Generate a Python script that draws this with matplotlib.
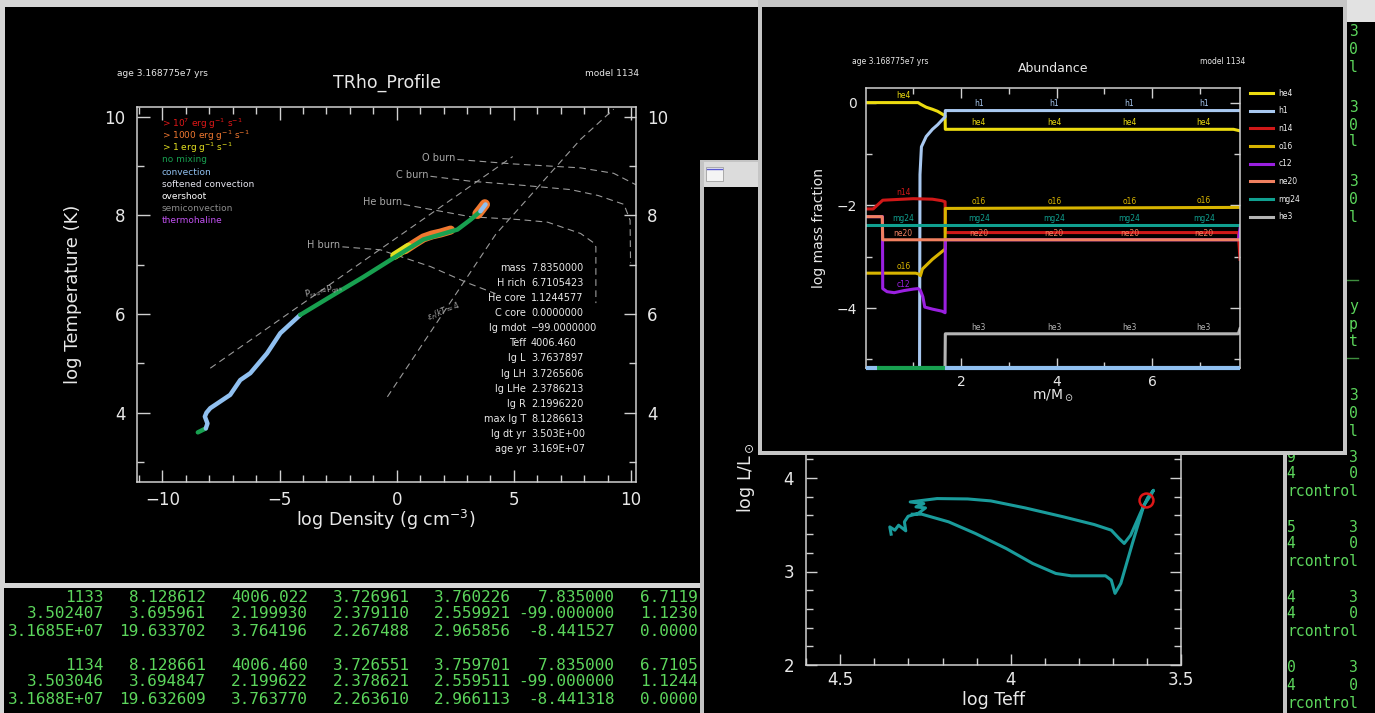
import numpy as np
import matplotlib
matplotlib.use('Agg')
import matplotlib.pyplot as plt
from matplotlib.patches import Rectangle
from matplotlib.lines import Line2D
from matplotlib.ticker import MultipleLocator, FixedLocator, FuncFormatter

plt.rcParams['font.family'] = ['DejaVu Sans']
plt.rcParams['mathtext.fontset'] = 'dejavusans'

# ====================== DATA ======================
# --- TRho profile panel (log rho, log T) ---
prof_age = 'age 3.168775e7 yrs'
prof_model = 'model 1134'
trho_surf_rho = [-8.49, -8.15]
trho_surf_T = [3.60, 3.68]
trho_env_rho = [-8.15, -8.08, -8.19, -8.12, -7.96, -7.11, -6.68, -6.25, -5.54, -4.97, -4.12]
trho_env_T = [3.68, 3.78, 3.92, 4.00, 4.09, 4.36, 4.66, 4.80, 5.20, 5.61, 5.98]
trho_rad_rho = [-4.12, -2.83, -1.42, 0.29, 1.14, 1.87, 2.59, 3.15, 3.57]
trho_rad_T = [5.98, 6.35, 6.75, 7.26, 7.51, 7.61, 7.71, 7.91, 8.08]
trho_core_rho = [3.57, 3.68, 3.79]
trho_core_T = [8.08, 8.15, 8.22]
burn1_rho = [-0.10, 0.20, 0.50]
burn1_T = [7.18, 7.27, 7.36]
burn1000_rho = [0.35, 0.80, 1.14, 1.50, 1.87, 2.30]
burn1000_T = [7.30, 7.44, 7.54, 7.60, 7.64, 7.70]
burnhot_rho = [3.45, 3.60, 3.76]
burnhot_T = [8.03, 8.12, 8.22]

prad_rho = [-7.96, 4.95]
prad_T = [4.90, 9.19]
degen_rho = [-0.40, 2.00, 4.22, 7.85, 9.26]
degen_T = [4.32, 6.03, 7.61, 9.54, 10.15]
hburn_rho = [-2.32, -0.70, 1.44, 3.02, 4.22]
hburn_T = [7.36, 7.30, 6.96, 6.63, 6.41]
heburn_rho = [0.29, 3.15, 5.29, 6.44, 7.85, 8.41, 8.50, 8.50]
heburn_T = [8.22, 7.97, 7.91, 7.86, 7.63, 7.44, 7.36, 6.22]
cburn_rho = [1.44, 3.15, 5.30, 7.42, 8.60, 9.70, 9.96, 9.98]
cburn_T = [8.79, 8.69, 8.61, 8.52, 8.40, 8.22, 7.90, 7.03]
oburn_rho = [2.59, 4.98, 7.85, 9.26, 10.20]
oburn_T = [9.13, 9.04, 8.96, 8.85, 8.62]

mix_legend = [r'> 10$^7$ erg g$^{-1}$ s$^{-1}$', r'> 1000 erg g$^{-1}$ s$^{-1}$',
              r'> 1 erg g$^{-1}$ s$^{-1}$', 'no mixing', 'convection',
              'softened convection', 'overshoot', 'semiconvection', 'thermohaline']
mix_colors = ['#e01818', '#f07830', '#e4e020', '#18a050', '#90c0f0',
              '#e6e6f0', '#ffffff', '#8c8c8c', '#c050f0']

info_labels = ['mass', 'H rich', 'He core', 'C core', 'lg mdot', 'Teff', 'lg L',
               'lg LH', 'lg LHe', 'lg R', 'max lg T', 'lg dt yr', 'age yr']
info_values = ['7.8350000', '6.7105423', '1.1244577', '0.0000000', '\u221299.0000000',
               '4006.460', '3.7637897', '3.7265606', '2.3786213', '2.1996220',
               '8.1286613', '3.503E+00', '3.169E+07']

# --- Abundance panel (m/Msun, log mass fraction) ---
ab_age = 'age 3.168775e7 yrs'
ab_model = 'model 1134'
he4_m = [0, 1.10, 1.15, 1.27, 1.40, 1.51, 1.60, 1.665, 1.67, 7.70, 7.835]
he4_v = [0.0, 0.0, -0.03, -0.09, -0.13, -0.17, -0.22, -0.26, -0.52, -0.52, -0.55]
h1_m = [0, 1.13, 1.14, 1.17, 1.27, 1.40, 1.51, 1.60, 1.665, 1.67, 7.835]
h1_v = [-5.5, -5.5, -1.40, -0.86, -0.66, -0.52, -0.43, -0.34, -0.28, -0.155, -0.155]
n14_m = [0, 0.16, 0.36, 1.00, 1.40, 1.60, 1.665, 1.67, 7.80, 7.835]
n14_v = [-2.07, -2.07, -1.90, -1.87, -1.88, -1.91, -1.93, -2.53, -2.53, -3.05]
o16_m = [0, 1.05, 1.12, 1.15, 1.19, 1.40, 1.60, 1.665, 1.67, 7.835]
o16_v = [-3.32, -3.32, -3.34, -3.37, -3.24, -3.05, -2.90, -2.85, -2.06, -2.04]
c12_m = [0, 0.355, 0.36, 0.45, 0.60, 0.80, 1.00, 1.10, 1.15, 1.20, 1.24, 1.40, 1.60,
         1.665, 1.67, 7.80, 7.835]
c12_v = [-2.22, -2.22, -3.62, -3.68, -3.70, -3.66, -3.63, -3.62, -3.66, -3.78, -3.98,
         -4.02, -4.06, -4.09, -2.67, -2.67, -2.45]
ne20_m = [0, 0.35, 0.36, 7.835]
ne20_v = [-2.22, -2.22, -2.67, -2.67]
mg24_m = [0, 7.835]
mg24_v = [-2.38, -2.38]
he3_m = [0, 1.66, 1.67, 7.80, 7.835]
he3_v = [-5.5, -5.5, -4.50, -4.50, -4.40]
species = ['he4', 'h1', 'n14', 'o16', 'c12', 'ne20', 'mg24', 'he3']
species_m = [he4_m, h1_m, n14_m, o16_m, c12_m, ne20_m, mg24_m, he3_m]
species_v = [he4_v, h1_v, n14_v, o16_v, c12_v, ne20_v, mg24_v, he3_v]
species_colors = ['#ecdc10', '#a8c8f0', '#d01818', '#d8b400', '#9a20e0', '#f08060',
                  '#10a090', '#b4b4b4']
ab_mix_edges = [0, 0.25, 1.67, 7.835]
ab_mix_types = ['convection', 'no mixing', 'convection']

# --- HR diagram (log Teff, log L) ---
hr_logTeff = [4.351, 4.355, 4.340, 4.329, 4.308, 4.312, 4.301, 4.272, 4.250, 4.278,
              4.255, 4.295, 4.216, 4.126, 4.058, 3.957, 3.844, 3.754, 3.704, 3.681,
              3.666, 3.647, 3.619, 3.597, 3.580, 3.585, 3.608, 3.642, 3.676, 3.693,
              3.704, 3.721, 3.822, 3.867, 3.935, 4.013, 4.103, 4.182, 4.261, 4.289]
hr_logL = [3.399, 3.477, 3.442, 3.495, 3.435, 3.531, 3.591, 3.620, 3.680, 3.691,
           3.726, 3.744, 3.780, 3.776, 3.755, 3.680, 3.584, 3.502, 3.442, 3.353,
           3.300, 3.389, 3.620, 3.790, 3.869, 3.833, 3.709, 3.300, 2.873, 2.766,
           2.908, 2.954, 2.954, 2.979, 3.086, 3.246, 3.406, 3.531, 3.613, 3.613]
hr_now_logTeff = 3.6027
hr_now_logL = 3.7638

# --- terminal text ---
term_rows = [
    ['1133', '8.128612', '4006.022', '3.726961', '3.760226', '7.835000', '6.7119'],
    ['3.502407', '3.695961', '2.199930', '2.379110', '2.559921', '-99.000000', '1.1230'],
    ['3.1685E+07', '19.633702', '3.764196', '2.267488', '2.965856', '-8.441527', '0.0000'],
    ['1134', '8.128661', '4006.460', '3.726551', '3.759701', '7.835000', '6.7105'],
    ['3.503046', '3.694847', '2.199622', '2.378621', '2.559511', '-99.000000', '1.1244'],
    ['3.1688E+07', '19.632609', '3.763770', '2.263610', '2.966113', '-8.441318', '0.0000'],
]
side_lines = ['3', '0', 'l', '3', '0', 'l', '3', '0', 'l',
              'y', 'p', 't', '3', '0', 'l',
              '9      3', '4      0', 'rcontrol', '5      3', '4      0', 'rcontrol',
              '4      3', '4      0', 'rcontrol', '0      3', '4      0', 'rcontrol']

# ====================== LAYOUT ======================
W, H = 1375, 713
fig = plt.figure(figsize=(W / 100, H / 100), dpi=100)
fig.patch.set_facecolor('#d6d6d6')
FG = '#d0d0d0'
TXT = '#e8e8e8'
GREEN = '#5cd65c'


def layer(z):
    a = fig.add_axes([0, 0, 1, 1])
    a.set_xlim(0, W)
    a.set_ylim(H, 0)
    a.set_axis_off()
    a.set_zorder(z)
    return a


def rect(a, x0, y0, x1, y1, color, ec='none', lw=0):
    a.add_patch(Rectangle((x0, y0), x1 - x0, y1 - y0, facecolor=color,
                          edgecolor=ec, linewidth=lw))


def px_axes(box, z):
    l, t, r, b = box
    a = fig.add_axes([l / W, 1 - b / H, (r - l) / W, (b - t) / H])
    a.set_zorder(z)
    return a


def ac(box, px, py):
    l, t, r, b = box
    return (px - l) / (r - l), (b - py) / (b - t)


def fmt(v, p):
    return f'{v:g}'.replace('-', '\u2212')


def style(a, lsize, maj, mino, padx, pady):
    a.set_facecolor('none')
    for s in a.spines.values():
        s.set_color(FG)
        s.set_linewidth(1.1)
    a.tick_params(which='both', direction='in', top=True, right=True, color=FG,
                  width=1, labelcolor=TXT, labelsize=lsize)
    a.tick_params(which='major', length=maj)
    a.tick_params(which='minor', length=mino)
    a.tick_params(axis='x', pad=padx)
    a.tick_params(axis='y', pad=pady)
    a.xaxis.set_major_formatter(FuncFormatter(fmt))
    a.yaxis.set_major_formatter(FuncFormatter(fmt))


# ---------- background windows ----------
L0 = layer(0)
rect(L0, 5, 7, 758, 583, 'black')
rect(L0, 4, 588, 700, 713, 'black')
rect(L0, 1287, 22, 1375, 713, 'black')
rect(L0, 1347, 0, 1375, 22, '#e2e2e2')

col_right = [104, 206, 308, 409.5, 511, 614.5, 698]
row_y = [597, 614, 631, 665, 682, 699]
for ry, row in zip(row_y, term_rows):
    for cx, s in zip(col_right, row):
        L0.text(cx, ry, s, ha='right', va='center', fontsize=11.5,
                family='DejaVu Sans Mono', color=GREEN)

side_y = [32, 50, 68, 107, 125, 142, 182, 200, 217, 307, 325, 342, 395, 413, 432,
          458, 474, 492, 527, 544, 562, 597, 614, 632, 668, 686, 704]
for yy, s in zip(side_y, side_lines):
    L0.text(1358, yy, s, ha='right', va='center', fontsize=10.6,
            family='DejaVu Sans Mono', color=GREEN)
for yy in [280, 358]:
    L0.plot([1300, 1358], [yy, yy], color='#3f8f3f', lw=1)

# ---------- TRho panel ----------
B1 = (136.7, 106.7, 635.7, 481.7)
ax1 = px_axes(B1, 1)
ax1.set_xlim(-11.1, 10.2)
ax1.set_ylim(2.6, 10.2)
style(ax1, 12, 9, 5, 7, 8)
ax1.tick_params(axis='y', labelright=True)
ax1.xaxis.set_major_locator(MultipleLocator(5))
ax1.xaxis.set_minor_locator(MultipleLocator(1))
ax1.yaxis.set_major_locator(MultipleLocator(2))
ax1.yaxis.set_minor_locator(MultipleLocator(1))

dash = (0, (6, 4))
for xs, ys in [(prad_rho, prad_T), (degen_rho, degen_T), (hburn_rho, hburn_T),
               (heburn_rho, heburn_T), (cburn_rho, cburn_T), (oburn_rho, oburn_T)]:
    ax1.plot(xs, ys, color='#9a9a9a', lw=0.8, ls=dash)

ax1.plot(burn1000_rho, burn1000_T, color=mix_colors[1], lw=6.5, solid_capstyle='round')
ax1.plot(burn1_rho, burn1_T, color=mix_colors[2], lw=6, solid_capstyle='round')
ax1.plot(burnhot_rho, burnhot_T, color=mix_colors[1], lw=7.5, solid_capstyle='round')
ax1.plot(trho_surf_rho, trho_surf_T, color=mix_colors[3], lw=3.2, solid_capstyle='round')
ax1.plot(trho_env_rho, trho_env_T, color=mix_colors[4], lw=3.2, solid_capstyle='round')
ax1.plot(trho_rad_rho, trho_rad_T, color=mix_colors[3], lw=3.2, solid_capstyle='round')
ax1.plot(trho_core_rho, trho_core_T, color=mix_colors[4], lw=3.2, solid_capstyle='round')

lab_c = '#a8a8a8'
ax1.text(-2.41, 7.40, 'H burn', ha='right', va='center', fontsize=7, color=lab_c)
ax1.text(0.23, 8.27, 'He burn', ha='right', va='center', fontsize=7, color=lab_c)
ax1.text(1.35, 8.81, 'C burn', ha='right', va='center', fontsize=7, color=lab_c)
ax1.text(2.51, 9.17, 'O burn', ha='right', va='center', fontsize=7, color=lab_c)
ax1.text(-4.0, 6.45, r'P$_{\rm rad}$≈P$_{\rm gas}$', ha='left', va='center',
         fontsize=6, color=lab_c, rotation=12)
ax1.text(2.03, 6.05, r'$\epsilon_F/kT\approx4$', ha='center', va='center',
         fontsize=5.5, color=lab_c, rotation=22)

for i, (s, c) in enumerate(zip(mix_legend, mix_colors)):
    x, y = ac(B1, 161.7, 123.3 + i * 12.2)
    ax1.text(x, y, s, transform=ax1.transAxes, ha='left', va='center',
             fontsize=6.5, color=c)

for i, (lab, val) in enumerate(zip(info_labels, info_values)):
    yy = 268.3 + i * 15.03
    x, y = ac(B1, 526, yy)
    ax1.text(x, y, lab, transform=ax1.transAxes, ha='right', va='center',
             fontsize=7, color=TXT)
    x, y = ac(B1, 531, yy)
    ax1.text(x, y, val, transform=ax1.transAxes, ha='left', va='center',
             fontsize=7, color=TXT)

ax1.set_xlabel('log Density (g cm$^{-3}$)', fontsize=12.5, color=TXT)
ax1.xaxis.set_label_coords(*ac(B1, 386, 520))
ax1.xaxis.label.set_va('center')
ax1.set_ylabel('log Temperature (K)', fontsize=13, color=TXT)
ax1.yaxis.set_label_coords(*ac(B1, 73, 294))
ax1.yaxis.label.set_va('center')
L0.text(387, 83, 'TRho_Profile', ha='center', va='center', fontsize=12.5, color=TXT)
L0.text(117, 73.3, prof_age, ha='left', va='center', fontsize=6.5, color=TXT)
L0.text(639, 73.3, prof_model, ha='right', va='center', fontsize=6.5, color=TXT)

# ---------- HR window ----------
LHR = layer(2)
rect(LHR, 700, 160, 1287, 713, '#c4c4c4')
rect(LHR, 704, 162, 1283, 187, '#dcdcdc')
rect(LHR, 704, 187, 1283, 713, 'black')
rect(LHR, 706, 167, 723, 181, '#f4f4f4', ec='#a0a0a0', lw=0.6)
LHR.plot([707, 722], [168.5, 168.5], color='#5a5ad0', lw=1)

B3 = (806.4, 291, 1180.7, 665)
ax3 = px_axes(B3, 3)
ax3.set_xlim(4.6, 3.5)
ax3.set_ylim(2, 6)
style(ax3, 12, 8, 5, 4, 9)
ax3.xaxis.set_major_locator(MultipleLocator(0.5))
ax3.xaxis.set_minor_locator(MultipleLocator(0.1))
ax3.yaxis.set_major_locator(MultipleLocator(1))
ax3.yaxis.set_minor_locator(MultipleLocator(0.2))
ax3.plot(hr_logTeff, hr_logL, color='#1a9c9c', lw=2.2, solid_joinstyle='round')
ax3.plot([hr_now_logTeff], [hr_now_logL], 'o', mfc='none', mec='#e01818', ms=10, mew=1.8)
ax3.set_xlabel('log Teff', fontsize=12.5, color=TXT)
ax3.xaxis.set_label_coords(*ac(B3, 993.5, 700))
ax3.xaxis.label.set_va('center')
ax3.set_ylabel(r'log L/L$_\odot$', fontsize=12.5, color=TXT)
ax3.yaxis.set_label_coords(*ac(B3, 746, 478))
ax3.yaxis.label.set_va('center')

# ---------- Abundance window ----------
LAB = layer(4)
rect(LAB, 758, 0, 1347, 455, '#c6c6c6')
rect(LAB, 762, 7, 1343, 451, 'black')
LAB.text(1053.6, 69, 'Abundance', ha='center', va='center', fontsize=9, color=TXT)
LAB.text(852, 61, ab_age, ha='left', va='center', fontsize=5.5, color=TXT)
LAB.text(1245, 61, ab_model, ha='right', va='center', fontsize=5.5, color=TXT)

B2 = (865.5, 87.7, 1240, 367.7)
ax2 = px_axes(B2, 5)
ax2.set_xlim(0, 7.835)
ax2.set_ylim(-5.16, 0.29)
style(ax2, 10, 7, 4, 5, 6)
ax2.xaxis.set_major_locator(FixedLocator([2, 4, 6]))
ax2.xaxis.set_minor_locator(FixedLocator([1, 3, 5, 7]))
ax2.yaxis.set_major_locator(MultipleLocator(2))
ax2.yaxis.set_minor_locator(MultipleLocator(1))

handles = []
for name, m, v, c in zip(species, species_m, species_v, species_colors):
    ln, = ax2.plot(m, v, color=c, lw=2.2, label=name)
    handles.append(ln)

mix_col = {'convection': mix_colors[4], 'no mixing': mix_colors[3]}
ymin = ax2.get_ylim()[0]
for i, t in enumerate(ab_mix_types):
    ax2.plot(ab_mix_edges[i:i + 2], [ymin, ymin], color=mix_col[t], lw=3,
             clip_on=False, solid_capstyle='butt', zorder=4)

label_pos = {'he4': [0.79, 2.37, 3.95, 5.52, 7.08], 'h1': [2.37, 3.95, 5.52, 7.08],
             'n14': [0.79], 'o16': [0.79, 2.37, 3.95, 5.52, 7.08],
             'c12': [0.79], 'ne20': [0.79, 2.37, 3.95, 5.52, 7.08],
             'mg24': [0.79, 2.37, 3.95, 5.52, 7.08], 'he3': [2.37, 3.95, 5.52, 7.08]}
for name, m, v, c in zip(species, species_m, species_v, species_colors):
    for lx in label_pos[name]:
        ly = np.interp(lx, m, v) + 0.13
        ax2.text(lx, ly, name, ha='center', va='center', fontsize=5.5, color=c)

leg = ax2.legend(handles=handles, loc='upper left', bbox_to_anchor=(1.028, 0.997),
                 frameon=False, fontsize=5.5, handlelength=2.9, handletextpad=0.75,
                 labelspacing=1.14, borderpad=0, borderaxespad=0)
for t in leg.get_texts():
    t.set_color('#f0f0f0')

ax2.set_xlabel(r'm/M$_\odot$', fontsize=10, color=TXT)
ax2.xaxis.set_label_coords(*ac(B2, 1053, 395))
ax2.xaxis.label.set_va('center')
ax2.set_ylabel('log mass fraction', fontsize=10, color=TXT)
ax2.yaxis.set_label_coords(*ac(B2, 819, 228))
ax2.yaxis.label.set_va('center')

fig.savefig('out.png', dpi=100, facecolor=fig.get_facecolor())
